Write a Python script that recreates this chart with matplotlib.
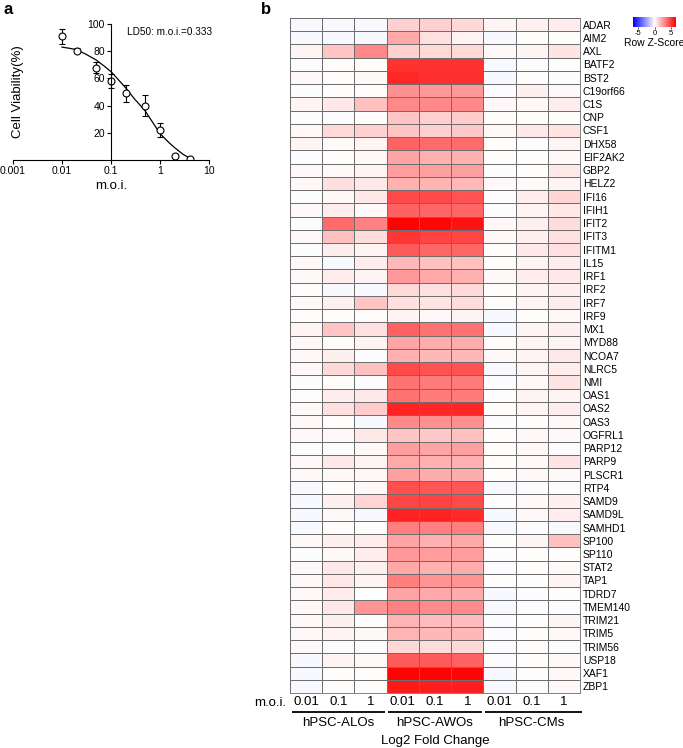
import numpy as np
import matplotlib
matplotlib.use("Agg")
import matplotlib.pyplot as plt
from matplotlib.colors import LinearSegmentedColormap

plt.rcParams['font.family'] = ['Liberation Sans', 'DejaVu Sans']

# ---------------- Panel a data ----------------
moi = [0.01, 0.02, 0.05, 0.1, 0.2, 0.5, 1, 2, 4]
viability = [91, 80.5, 68, 58, 49, 40, 22, 3, 1]
viability_err = [5.5, 2, 4, 5, 6.5, 8, 5, 1, 1]
fit_moi = [0.01, 0.015, 0.02, 0.03, 0.05, 0.07, 0.1, 0.15, 0.2, 0.3, 0.4, 0.5, 0.7, 1, 1.5, 2, 3, 4]
fit_via = [83, 82, 81, 78, 73.5, 69.5, 65, 58, 53, 45, 40, 36, 28, 19.5, 13, 9, 4, 1.5]

# ---------------- Panel b data ----------------
genes = ["ADAR", "AIM2", "AXL", "BATF2", "BST2", "C19orf66", "C1S", "CNP", "CSF1",
         "DHX58", "EIF2AK2", "GBP2", "HELZ2", "IFI16", "IFIH1", "IFIT2", "IFIT3",
         "IFITM1", "IL15", "IRF1", "IRF2", "IRF7", "IRF9", "MX1", "MYD88", "NCOA7",
         "NLRC5", "NMI", "OAS1", "OAS2", "OAS3", "OGFRL1", "PARP12", "PARP9", "PLSCR1",
         "RTP4", "SAMD9", "SAMD9L", "SAMHD1", "SP100", "SP110", "STAT2", "TAP1",
         "TDRD7", "TMEM140", "TRIM21", "TRIM5", "TRIM56", "USP18", "XAF1", "ZBP1"]
moi_labels = ["0.01", "0.1", "1"]
groups = ["hPSC-ALOs", "hPSC-AWOs", "hPSC-CMs"]

alos = [
    [-0.2, -0.2, -0.2], [-0.2, -0.2, -0.2], [0.3, 1.5, 3.0], [-0.1, 0.1, 0.1], [0.2, 0.1, 0.2],
    [-0.1, 0.1, 0.1], [0.3, 0.6, 1.6], [-0.1, -0.1, 0.1], [0.2, 1.0, 1.2], [0.3, 0.2, 0.3],
    [-0.1, 0.1, 0.2], [0.2, 0.2, 0.3], [0.2, 0.8, 0.6], [-0.1, 0.2, 0.6], [0.2, 0.5, 0.2],
    [-0.1, 3.8, 3.2], [0.2, 1.6, 0.9], [-0.1, 0.5, 0.3], [0.2, -0.2, 0.5], [0.2, 0.5, 0.3],
    [0.1, -0.2, -0.2], [0.2, 0.4, 1.5], [0.1, 0.1, 0.1], [0.3, 1.5, 0.8], [0.2, 0.1, 0.3],
    [0.2, 0.4, -0.1], [0.2, 1.0, 1.6], [-0.1, 0.1, -0.1], [0.1, 0.5, 0.6], [0.2, 0.8, 1.3],
    [0.2, 0.1, -0.2], [0.2, 0.2, 0.6], [-0.1, -0.1, 0.2], [0.2, 0.6, 0.3], [0.2, 0.2, 0.2],
    [-0.2, 0.1, 0.2], [-0.2, 0.4, 1.1], [-0.2, 0.2, -0.2], [-0.2, 0.1, 0.1], [0.2, 0.4, 0.5],
    [-0.1, 0.2, 0.5], [0.2, 0.6, 0.4], [0.2, 0.6, 0.3], [0.2, 0.5, 0.0], [0.2, 0.6, 2.7],
    [0.2, 0.4, 0.1], [0.2, 0.3, 0.2], [0.2, -0.1, -0.1], [-0.2, 0.3, 0.2], [-0.2, 0.1, 0.1],
    [-0.2, 0.1, 0.1]]
awos = [
    [1.2, 1.2, 1.0], [2.2, 0.8, 0.3], [1.2, 1.0, 1.0], [5.2, 5.2, 5.2], [5.5, 5.3, 5.3],
    [2.8, 2.6, 2.6], [3.0, 3.0, 3.0], [1.5, 1.2, 1.3], [1.5, 1.2, 1.4], [4.0, 3.8, 3.8],
    [2.3, 2.0, 2.0], [2.5, 2.4, 2.4], [2.0, 1.9, 1.8], [4.6, 4.6, 4.4], [4.0, 3.9, 3.9],
    [6.4, 6.3, 6.0], [5.1, 4.8, 4.7], [4.2, 3.9, 3.9], [1.8, 1.6, 1.6], [2.6, 2.2, 2.0],
    [1.0, 0.8, 1.0], [0.8, 0.7, 0.9], [0.3, 0.2, 0.3], [4.0, 3.6, 3.6], [2.3, 2.1, 2.1],
    [2.0, 1.8, 1.8], [4.6, 4.4, 4.4], [3.6, 3.4, 3.4], [3.6, 3.4, 3.4], [5.6, 5.5, 5.5],
    [3.0, 2.8, 2.8], [1.5, 1.4, 1.6], [2.5, 2.3, 2.4], [2.2, 2.0, 2.0], [2.4, 2.1, 2.1],
    [4.5, 4.3, 4.3], [4.7, 4.8, 4.6], [5.6, 5.6, 5.4], [3.3, 3.2, 3.3], [2.3, 2.0, 2.2],
    [2.6, 2.5, 2.5], [2.2, 2.0, 2.1], [3.3, 2.7, 2.7], [2.3, 2.2, 2.1], [3.2, 2.9, 2.9],
    [1.9, 1.7, 1.7], [1.9, 1.8, 1.8], [1.0, 0.9, 1.0], [4.2, 4.2, 4.0], [6.4, 6.4, 6.3],
    [5.8, 5.7, 5.7]]
cms = [
    [0.3, 0.4, 0.5], [-0.2, 0.1, 0.1], [0.2, 0.3, 0.7], [-0.2, -0.1, 0.1], [-0.2, 0.1, -0.1],
    [-0.1, 0.4, 0.2], [0.2, 0.2, 0.5], [0.1, 0.1, 0.1], [0.2, 0.6, 0.7], [0.1, -0.1, 0.3],
    [0.1, 0.1, 0.2], [-0.1, 0.1, 0.6], [0.2, 0.2, 0.3], [0.1, 0.5, 1.1], [-0.1, 0.3, 0.6],
    [0.2, 0.4, 0.9], [0.2, 0.4, 0.8], [0.1, 0.6, 0.8], [0.1, 0.3, 0.5], [0.2, 0.5, 0.6],
    [0.1, 0.3, 0.4], [0.1, 0.3, 0.5], [-0.2, 0.1, 0.2], [-0.2, 0.3, 0.4], [0.1, 0.3, 0.3],
    [0.2, 0.3, 0.6], [-0.2, 0.3, 0.5], [-0.1, 0.2, 0.7], [0.1, 0.3, 0.3], [0.1, 0.3, 0.5],
    [-0.1, 0.1, 0.2], [0.1, 0.2, 0.2], [0.1, 0.2, -0.1], [0.1, 0.2, 0.7], [0.1, 0.2, 0.2],
    [-0.2, -0.1, -0.1], [0.1, 0.2, 0.4], [-0.2, 0.2, 0.5], [-0.2, -0.1, -0.2], [0.1, 0.3, 1.6],
    [-0.1, 0.1, 0.1], [-0.1, 0.1, 0.2], [0.1, 0.1, 0.3], [-0.2, -0.1, 0.1], [-0.2, -0.1, -0.1],
    [-0.1, 0.1, 0.3], [-0.1, 0.1, 0.2], [-0.1, 0.1, -0.1], [-0.1, 0.1, 0.2], [-0.2, 0.1, 0.2],
    [-0.2, -0.1, 0.2]]

cbar_ticks = [-5, 0, 5]
vlim = 6.5

# ---------------- Figure ----------------
fig = plt.figure(figsize=(6.83, 7.48), dpi=100)
W, H = 683, 748

def fx(px):
    return px / W

def fy(py):
    return 1 - py / H

# Panel a
axa = fig.add_axes([fx(13), fy(160), fx(209) - fx(13), fy(24) - fy(160)])
axa.set_xscale('log')
axa.set_xlim(0.001, 10)
axa.set_ylim(0, 100)
axa.plot(fit_moi, fit_via, color='black', lw=0.9)
axa.errorbar(moi, viability, yerr=viability_err, fmt='o', ms=5, mfc='white',
             mec='black', mew=0.8, ecolor='black', elinewidth=0.8, capsize=2.5, capthick=0.8)
axa.spines['top'].set_visible(False)
axa.spines['right'].set_visible(False)
axa.spines['left'].set_position(('data', 0.1))
axa.spines['left'].set_bounds(0, 100)
for s in ['left', 'bottom']:
    axa.spines[s].set_linewidth(0.8)
axa.set_yticks([20, 40, 60, 80, 100])
axa.set_xticks([0.001, 0.01, 0.1, 1, 10])
axa.set_xticklabels(["0.001", "0.01", "0.1", "1", "10"])
axa.xaxis.set_minor_locator(matplotlib.ticker.NullLocator())
axa.tick_params(axis='both', labelsize=7.5, width=0.8, length=3, pad=1.5)
axa.set_ylabel("Cell Viability(%)", fontsize=9.5)
axa.yaxis.set_label_coords(0.055, 0.5)
axa.set_xlabel("m.o.i.", fontsize=9.5, labelpad=3)
axa.text(0.80, 0.94, "LD50: m.o.i.=0.333", transform=axa.transAxes,
         fontsize=7.2, ha='center', va='center')

fig.text(fx(4), fy(10), "a", fontsize=12, fontweight='bold', va='center', ha='left')
fig.text(fx(261), fy(10), "b", fontsize=12, fontweight='bold', va='center', ha='left')

# Panel b heatmap
data = np.hstack([np.array(alos), np.array(awos), np.array(cms)])
nrow, ncol = data.shape
cmap = LinearSegmentedColormap.from_list("bwr2", ["#0000ff", "#ffffff", "#ff0000"])
axb = fig.add_axes([fx(290), fy(693), fx(580) - fx(290), fy(18) - fy(693)])
axb.pcolormesh(np.arange(ncol + 1), np.arange(nrow + 1), data, cmap=cmap,
               vmin=-vlim, vmax=vlim, edgecolors='#6e6e6e', linewidth=0.5)
axb.set_xlim(0, ncol)
axb.set_ylim(nrow, 0)
for s in axb.spines.values():
    s.set_linewidth(0.6)
    s.set_color('#6e6e6e')
axb.set_yticks(np.arange(nrow) + 0.5)
axb.set_yticklabels(genes)
axb.yaxis.tick_right()
axb.tick_params(axis='y', length=0, labelsize=7.5, pad=2)
axb.set_xticks(np.arange(ncol) + 0.5)
axb.set_xticklabels(moi_labels * 3)
axb.tick_params(axis='x', length=0, labelsize=9.5, pad=2)

# m.o.i. label on left of x tick labels
axb.text(-0.1, nrow + 0.72, "m.o.i.", fontsize=9.5, ha='right', va='center', clip_on=False)

# group lines and labels
for gi, g in enumerate(groups):
    x0 = gi * 3 + 0.05
    x1 = gi * 3 + 2.95
    if gi == 2:
        x1 = gi * 3 + 3.05
    axb.plot([x0, x1], [nrow + 1.45, nrow + 1.45], color='black', lw=1.3, clip_on=False,
             solid_capstyle='butt')
    axb.text(gi * 3 + 1.5, nrow + 2.25, g, fontsize=9.5, ha='center', va='center', clip_on=False)
axb.text(ncol / 2, nrow + 3.6, "Log2 Fold Change", fontsize=9.5, ha='center', va='center',
         clip_on=False)

# Colorbar
cax = fig.add_axes([fx(633), fy(27), fx(676) - fx(633), fy(17) - fy(27)])
grad = np.linspace(-vlim, vlim, 256).reshape(1, -1)
cax.imshow(grad, aspect='auto', cmap=cmap, vmin=-vlim, vmax=vlim,
           extent=[-vlim, vlim, 0, 1])
cax.set_yticks([])
cax.set_xticks(cbar_ticks)
cax.set_xticklabels([str(t) for t in cbar_ticks])
cax.tick_params(axis='x', labelsize=5.5, length=1.5, width=0.5, pad=0.5)
for s in cax.spines.values():
    s.set_visible(False)
fig.text(fx(654), fy(43), "Row Z-Score", fontsize=7.5, ha='center', va='center')

fig.savefig("out.png", dpi=100)
